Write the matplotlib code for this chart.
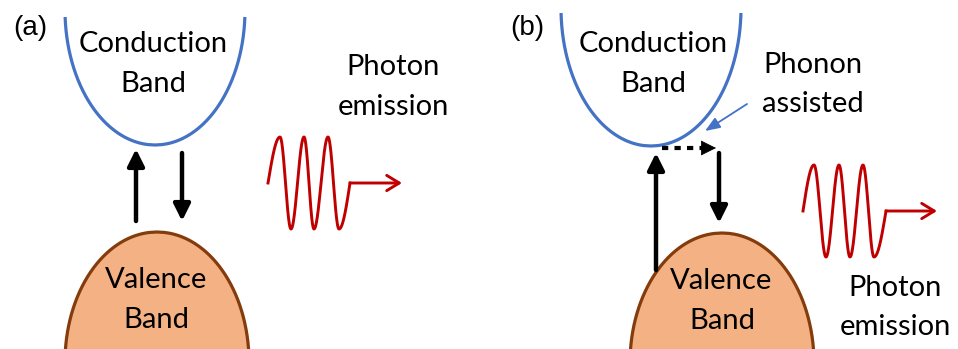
import numpy as np
import matplotlib
matplotlib.use("Agg")
import matplotlib.pyplot as plt
from matplotlib.patches import FancyArrowPatch, Polygon, ArrowStyle

plt.rcParams['font.family'] = ['Lato', 'DejaVu Sans']

BLUE = "#4472C4"
FILL = "#F4B183"
EDGE = "#843C0C"
RED = "#C00000"
FS = 21

# Band arcs (elliptic): (vertex x, vertex y, semi-axis x, semi-axis y, drawn depth)
cond_a = (155, 145, 90, 135, 128)
cond_b = (651, 146, 90, 138, 133)
val_a = (157, 232, 92, 130, 125)
val_b = (722, 233, 92, 130, 125)

# Photon wave key points: x of start, peaks/troughs, end; mid y; amplitude; arrow tip
wave_a_x = [268, 280, 291, 304, 314, 328, 339, 350]
wave_a_mid, wave_a_amp, wave_a_tip = 183, 46, 402
wave_b_x = [803, 814, 826, 839, 850, 863, 874, 886]
wave_b_mid, wave_b_amp, wave_b_tip = 211, 46, 937

# Panel tags: (text, x, baseline y)
tags = [("(a)", 30, 35), ("(b)", 527, 35)]

# Text labels: (text, x, baseline y)
labels = [
    ("Conduction", 153, 52), ("Band", 153, 92),
    ("Photon", 393, 75), ("emission", 393, 115),
    ("Valence", 156, 288), ("Band", 156, 328),
    ("Conduction", 653, 52), ("Band", 653, 92),
    ("Phonon", 813, 73), ("assisted", 813, 112),
    ("Valence", 721, 289), ("Band", 722, 329),
    ("Photon", 895, 296), ("emission", 895, 335),
]

fig = plt.figure(figsize=(9.58, 3.49), dpi=100)
ax = fig.add_axes([0, 0, 1, 1])
ax.set_xlim(0, 958)
ax.set_ylim(349, 0)
ax.axis("off")


def arc(band, sign):
    xv, yv, a, b, depth = band
    t = np.linspace(0, depth, 300)
    hw = a * np.sqrt(np.clip(2 * t / b - (t / b) ** 2, 0, None))
    x = np.concatenate([xv - hw[::-1], xv + hw[1:]])
    y = np.concatenate([yv + sign * t[::-1], yv + sign * t[1:]])
    return x, y


def conduction(c):
    x, y = arc(c, -1)
    ax.plot(x, y, color=BLUE, lw=2.3, solid_capstyle="butt", zorder=3)


def valence(v):
    x, y = arc(v, +1)
    ax.add_patch(Polygon(np.column_stack([x, y]), closed=True,
                         facecolor=FILL, edgecolor="none", zorder=2))
    ax.plot(x, y, color=EDGE, lw=2.3, zorder=3)


def wave(xs, mid, amp, tip):
    # phase knots: start at mid rising, alternating peaks/troughs, end at mid
    ph = [0.0] + [np.pi / 2 + k * np.pi for k in range(len(xs) - 2)]
    ph.append(ph[-1] + np.pi / 2)
    x = np.linspace(xs[0], xs[-1], 600)
    phase = np.interp(x, xs, ph)
    y = mid - amp * np.sin(phase)
    ax.plot(x, y, color=RED, lw=2.1, zorder=3, solid_joinstyle="round")
    ax.add_patch(FancyArrowPatch((xs[-1], y[-1]), (tip, y[-1]),
                                 arrowstyle=ArrowStyle("->", head_length=0.9, head_width=0.55),
                                 mutation_scale=10, color=RED, lw=2.1,
                                 shrinkA=0, shrinkB=0, zorder=3))


def black_arrow(x0, y0, x1, y1):
    ax.add_patch(FancyArrowPatch((x0, y0), (x1, y1),
                                 arrowstyle=ArrowStyle("-|>", head_length=1.0, head_width=0.5),
                                 mutation_scale=10, color="black", lw=3.2,
                                 shrinkA=0, shrinkB=0, zorder=4))


for c in (cond_a, cond_b):
    conduction(c)
for v in (val_a, val_b):
    valence(v)

wave(wave_a_x, wave_a_mid, wave_a_amp, wave_a_tip)
wave(wave_b_x, wave_b_mid, wave_b_amp, wave_b_tip)

# panel (a) transitions
black_arrow(136, 221, 136, 149)
black_arrow(182, 153, 182, 221)

# panel (b) transitions
black_arrow(656, 270, 656, 153)
black_arrow(719, 153, 719, 223)
ax.plot([662, 702], [148, 148], color="black", lw=3.0,
        linestyle=(0, (1.5, 1.5)), solid_capstyle="butt", zorder=4)
ax.add_patch(FancyArrowPatch((700, 148), (716, 148),
                             arrowstyle=ArrowStyle("-|>", head_length=1.0, head_width=0.5),
                             mutation_scale=10, color="black", lw=0.5,
                             shrinkA=0, shrinkB=0, zorder=4))
# phonon pointer
ax.add_patch(FancyArrowPatch((747, 104), (705, 131),
                             arrowstyle=ArrowStyle("-|>", head_length=0.9, head_width=0.35),
                             mutation_scale=10, color=BLUE, lw=1.3,
                             shrinkA=0, shrinkB=0, zorder=4))

for t, x, y in tags:
    ax.text(x, y, t, ha="center", va="baseline", fontsize=20,
            family=["Liberation Sans", "DejaVu Sans"], color="black", zorder=5)
for t, x, y in labels:
    ax.text(x, y, t, ha="center", va="baseline", fontsize=FS, color="black", zorder=5)

fig.savefig("out.png", dpi=100)
